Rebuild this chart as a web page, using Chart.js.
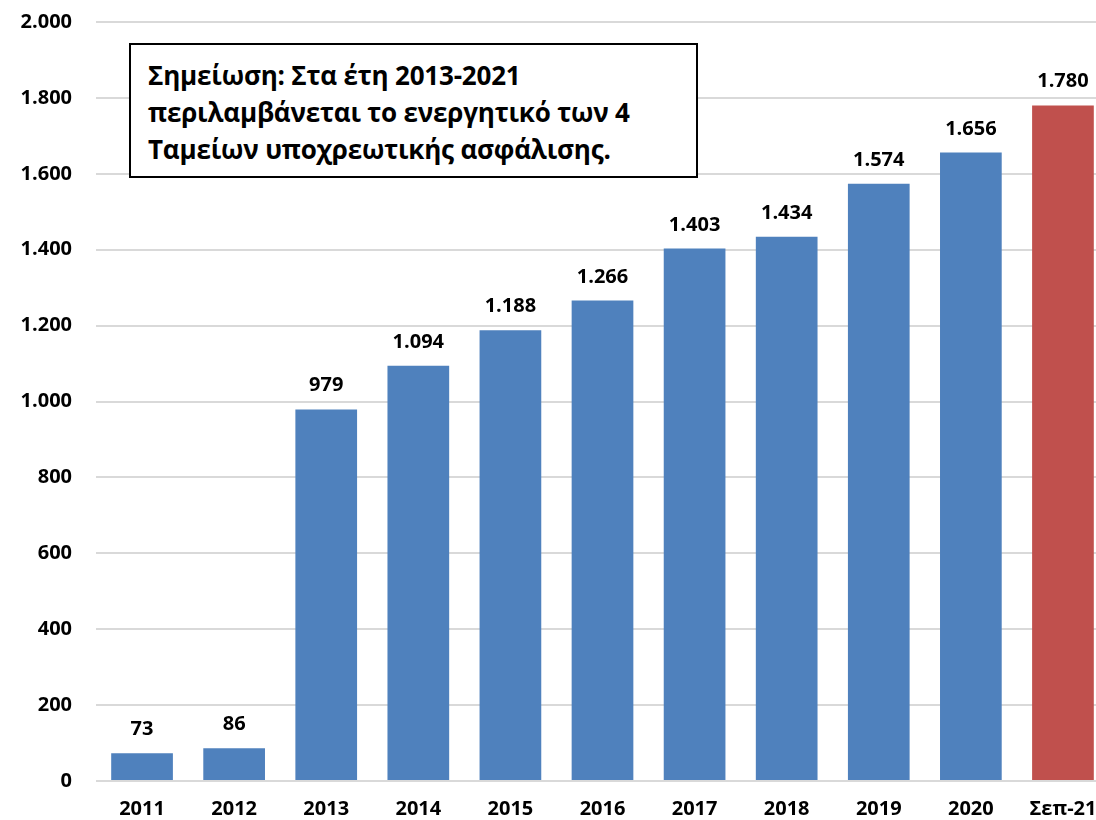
<!DOCTYPE html>
<html lang="el">
<head>
  <meta charset="UTF-8" />
  <title>Ενεργητικό Ταμείων</title>
  <script src="https://cdn.jsdelivr.net/npm/chart.js"></script>
  <style>
    body {
      margin: 0;
      background: #ffffff;
      overflow: hidden;
      font-family: "Open Sans", sans-serif;
    }
    .wrap {
      position: relative;
      width: 1110px;
      height: 820px;
    }
    .note {
      position: absolute;
      left: 129px;
      top: 43px;
      width: 569px;
      height: 135px;
      border: 2px solid #000;
      background: #fff;
      box-sizing: border-box;
      padding: 12px 0 0 17px;
      font-weight: bold;
      font-size: 26px;
      line-height: 37px;
      letter-spacing: -0.2px;
      color: #000;
    }
  </style>
</head>
<body>
  <div class="wrap">
    <canvas id="chart"></canvas>
    <div class="note">Σημείωση: Στα έτη 2013-2021<br>περιλαμβάνεται το ενεργητικό των 4<br>Ταμείων υποχρεωτικής ασφάλισης.</div>
  </div>

  <script>
    const labels = ['2011', '2012', '2013', '2014', '2015', '2016', '2017', '2018', '2019', '2020', 'Σεπ-21'];
    const values = [73, 86, 979, 1094, 1188, 1266, 1403, 1434, 1574, 1656, 1780];
    const yTicks = [0, 200, 400, 600, 800, 1000, 1200, 1400, 1600, 1800, 2000];

    const blue = '#4f81bd';
    const red = '#c0504d';

    // 1.780 style
    function fmt(n) {
      return String(n).replace(/\B(?=(\d{3})+(?!\d))/g, '.');
    }

    const valueLabels = {
      id: 'valueLabels',
      afterDatasetsDraw(chart) {
        const ctx = chart.ctx;
        const meta = chart.getDatasetMeta(0);
        ctx.save();
        ctx.font = 'bold 20px "Open Sans"';
        ctx.fillStyle = '#000';
        ctx.textAlign = 'center';
        ctx.textBaseline = 'alphabetic';
        meta.data.forEach((bar, i) => {
          ctx.fillText(fmt(values[i]), bar.x, bar.y - 18);
        });
        ctx.restore();
      }
    };

    Chart.defaults.font.family = '"Open Sans", sans-serif';
    Chart.defaults.color = '#000';

    new Chart(document.getElementById('chart'), {
      type: 'bar',
      data: {
        labels: labels,
        datasets: [{
          data: values,
          backgroundColor: c => c.dataIndex === labels.length - 1 ? red : blue,
          barPercentage: 0.67,
          categoryPercentage: 1
        }]
      },
      options: {
        responsive: true,
        maintainAspectRatio: false,
        animation: false,
        layout: { padding: { top: 22, right: 1, left: 0, bottom: 0 } },
        plugins: {
          legend: { display: false },
          tooltip: { enabled: false }
        },
        scales: {
          x: {
            grid: { display: false },
            border: { display: false },
            ticks: {
              font: { size: 20, weight: 'bold' },
              padding: 8,
              maxRotation: 0
            },
            afterFit: s => { s.height = 39; }
          },
          y: {
            min: 0,
            max: 2000,
            afterBuildTicks: s => { s.ticks = yTicks.map(v => ({ value: v })); },
            grid: { color: '#d9d9d9', lineWidth: 2, drawTicks: false },
            border: { display: false },
            ticks: {
              font: { size: 20, weight: 'bold' },
              padding: 24,
              callback: v => fmt(v)
            },
            afterFit: s => {
              s.width = 96;
              s.paddingTop = 0;
              s.paddingBottom = 0;
            }
          }
        }
      },
      plugins: [valueLabels]
    });
  </script>
</body>
</html>
